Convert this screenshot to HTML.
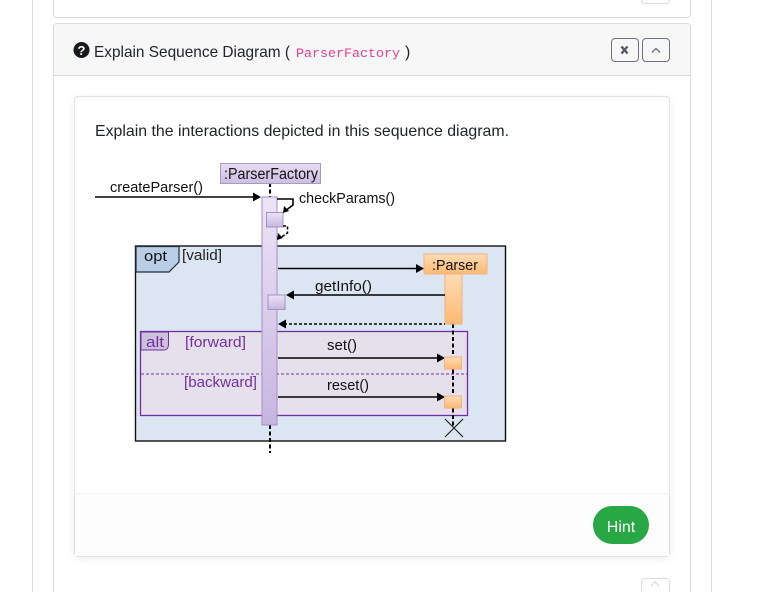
<!DOCTYPE html>
<html>
<head>
<meta charset="utf-8">
<style>
html,body{margin:0;padding:0;width:763px;height:592px;overflow:hidden;background:#fff}
#wrap{position:relative;width:763px;height:592px;overflow:hidden;background:#fff}
svg.main{display:block;position:absolute;left:0;top:0}
.abs{position:absolute;box-sizing:border-box}
text{font-family:"Liberation Sans",sans-serif}
</style>
</head>
<body>
<div id="wrap">
<div class="abs" style="left:32px;top:0;width:680px;height:592px;border-left:1px solid #dfdfdf;border-right:1px solid #dfdfdf"></div>
<div class="abs" style="left:53px;top:0;width:638px;height:18px;border:1px solid #dcdcdc;border-top:none;border-radius:0 0 4px 4px;background:#fff"></div>
<div class="abs" style="left:641px;top:0;width:29px;height:4px;border:1px solid #dddddd;border-top:none;border-radius:0 0 4px 4px;background:#fff"></div>
<div class="abs" style="left:53px;top:23px;width:638px;height:569px;border:1px solid #dcdcdc;border-bottom:none;border-radius:4px 4px 0 0;background:#fff"></div>
<div class="abs" style="left:54px;top:24px;width:636px;height:52px;border-bottom:1px solid #dcdcdc;background:#f7f7f8;border-radius:3px 3px 0 0"></div>
<div class="abs" style="left:74px;top:96px;width:596px;height:461px;border:1px solid #e2e2e2;border-radius:4px;background:#fff;box-shadow:0 2px 8px rgba(0,0,0,.07)"></div>
<div class="abs" style="left:75px;top:493px;width:594px;height:63px;border-top:1px solid #f2f2f2;background:#fdfdfd"></div>
<div class="abs" style="left:641px;top:578px;width:29px;height:14px;border:1px solid #dddddd;border-bottom:none;border-radius:4px 4px 0 0;background:#fff"></div>
<div class="abs" style="left:611px;top:38px;width:28px;height:24px;border:1px solid #6c757d;border-radius:4px"></div>
<div class="abs" style="left:642px;top:38px;width:28px;height:24px;border:1px solid #6c757d;border-radius:4px"></div>
<div class="abs" style="left:593px;top:506px;width:56px;height:38px;border-radius:19px;background:#28a745"></div>

<svg class="main" width="763" height="592" viewBox="0 0 763 592">
<defs>
<linearGradient id="p" x1="0" y1="0" x2="0" y2="1"><stop offset="0" stop-color="#ece4f6"/><stop offset="1" stop-color="#c7b5e0"/></linearGradient>
<linearGradient id="ph" x1="0" y1="0" x2="0" y2="1"><stop offset="0" stop-color="#e6dcf2"/><stop offset="1" stop-color="#cdbde3"/></linearGradient>
<linearGradient id="o" x1="0" y1="0" x2="0" y2="1"><stop offset="0" stop-color="#fedcb4"/><stop offset="1" stop-color="#fbb972"/></linearGradient>
</defs>

<!-- header -->
<circle cx="81.5" cy="50" r="8" fill="#17191c"/>
<text x="81.5" y="55" font-size="13" font-weight="bold" fill="#fff" text-anchor="middle">?</text>
<text x="94" y="57" font-size="16" fill="#212529" textLength="196" lengthAdjust="spacingAndGlyphs">Explain Sequence Diagram (</text>
<text x="296" y="57" font-size="13.33" fill="#e83e8c" style="font-family:'Liberation Mono',monospace">ParserFactory</text>
<text x="405" y="57" font-size="16" fill="#212529">)</text>
<path d="M621.500 46.500l6 7m0-7l-6 7" stroke="#555c63" stroke-width="2.400" fill="none"/>
<path d="M652 52.500l4-4 4 4" stroke="#6c757d" stroke-width="1.400" fill="none"/>
<path d="M651 586l4-4 4 4" stroke="#dddddd" stroke-width="1.400" fill="none"/>

<text x="95" y="136" font-size="16" fill="#212529" textLength="414" lengthAdjust="spacingAndGlyphs">Explain the interactions depicted in this sequence diagram.</text>

<g style="filter:blur(0.3px)">
<!-- opt frame -->
<rect x="135.500" y="246" width="370" height="195" fill="#dce6f2" stroke="#111" stroke-width="1.400"/>
<path d="M136 246.500H179V262L169 272H136Z" fill="#b9cde5" stroke="#1f2d40" stroke-width="1.200"/>
<text x="144" y="261" font-size="15" fill="#111" textLength="23" lengthAdjust="spacingAndGlyphs">opt</text>
<text x="182" y="260" font-size="15" fill="#222" textLength="40" lengthAdjust="spacingAndGlyphs">[valid]</text>

<!-- alt frame -->
<rect x="140.500" y="331.500" width="327" height="84" fill="#e6e0ec" stroke="#7030a0" stroke-width="1.300"/>
<path d="M141 332H168.500V345Q168 350 164 350H141Z" fill="#ccc1da" stroke="#7030a0" stroke-width="1"/>
<text x="146" y="347" font-size="14.500" fill="#7030a0" textLength="18" lengthAdjust="spacingAndGlyphs">alt</text>
<text x="185" y="347" font-size="14.500" fill="#7030a0" textLength="61" lengthAdjust="spacingAndGlyphs">[forward]</text>
<text x="184" y="387" font-size="14.500" fill="#7030a0" textLength="73" lengthAdjust="spacingAndGlyphs">[backward]</text>
<line x1="141" y1="374" x2="467" y2="374" stroke="#7030a0" stroke-width="1.100" stroke-dasharray="3 2"/>

<!-- lifelines -->
<line x1="270" y1="183" x2="270" y2="197" stroke="#000" stroke-width="2" stroke-dasharray="4 2.500"/>
<line x1="270" y1="425" x2="270" y2="453" stroke="#000" stroke-width="2" stroke-dasharray="4 2.500"/>
<line x1="453" y1="324" x2="453" y2="428" stroke="#000" stroke-width="2" stroke-dasharray="4 2.500"/>

<!-- ParserFactory -->
<rect x="220.500" y="163.500" width="100" height="20" fill="url(#ph)" stroke="#a99ac4" stroke-width="1"/>
<text x="224" y="179" font-size="15.500" fill="#111" textLength="94" lengthAdjust="spacingAndGlyphs">:ParserFactory</text>
<rect x="262" y="197" width="15" height="228" fill="url(#p)" stroke="#a48fc6" stroke-width="1"/>
<rect x="266.500" y="212.500" width="16.500" height="14.500" fill="url(#p)" stroke="#a48fc6" stroke-width="1"/>
<rect x="268" y="295" width="17" height="14.500" fill="url(#p)" stroke="#a48fc6" stroke-width="1"/>

<!-- createParser -->
<text x="110" y="192" font-size="15" fill="#111" textLength="93" lengthAdjust="spacingAndGlyphs">createParser()</text>
<line x1="95" y1="197" x2="254" y2="197" stroke="#000" stroke-width="1.600"/>
<path d="M261 197l-8-4.500v9z" fill="#000"/>

<!-- checkParams self call -->
<text x="299" y="203" font-size="15" fill="#111" textLength="96" lengthAdjust="spacingAndGlyphs">checkParams()</text>
<path d="M277 199H293V205L285 211" stroke="#000" stroke-width="1.600" fill="none"/>
<path d="M283 213l1-7 5 5z" fill="#000"/>
<path d="M283 226H287.500V233L280 238" stroke="#000" stroke-width="1.600" stroke-dasharray="3 2" fill="none"/>
<path d="M277 240l1-7 5 5z" fill="#000"/>

<!-- Parser -->
<line x1="278" y1="268.500" x2="418" y2="268.500" stroke="#000" stroke-width="1.500"/>
<path d="M424 268.500l-8-4.500v9z" fill="#000"/>
<rect x="424" y="254" width="63" height="20" fill="url(#o)" stroke="#f4b183" stroke-width="1"/>
<text x="432" y="270" font-size="15" fill="#111" textLength="46" lengthAdjust="spacingAndGlyphs">:Parser</text>
<rect x="445" y="274" width="17" height="50" fill="url(#o)" stroke="#f4b183" stroke-width="1"/>

<!-- getInfo -->
<text x="315" y="291" font-size="15" fill="#111" textLength="57" lengthAdjust="spacingAndGlyphs">getInfo()</text>
<line x1="292" y1="295" x2="445" y2="295" stroke="#000" stroke-width="1.500"/>
<path d="M286 295l8-4.500v9z" fill="#000"/>

<!-- return -->
<line x1="284" y1="324" x2="445" y2="324" stroke="#000" stroke-width="1.500" stroke-dasharray="3 2"/>
<path d="M278 324l8-4.500v9z" fill="#000"/>

<!-- set / reset -->
<text x="327" y="350" font-size="15" fill="#111" textLength="30" lengthAdjust="spacingAndGlyphs">set()</text>
<line x1="278" y1="358" x2="438" y2="358" stroke="#000" stroke-width="1.500"/>
<path d="M445 358l-8-4.500v9z" fill="#000"/>
<rect x="444.500" y="357" width="17" height="12" fill="url(#o)" stroke="#f4b183" stroke-width="1"/>
<text x="327" y="390" font-size="15" fill="#111" textLength="42" lengthAdjust="spacingAndGlyphs">reset()</text>
<line x1="278" y1="397" x2="438" y2="397" stroke="#000" stroke-width="1.500"/>
<path d="M445 397l-8-4.500v9z" fill="#000"/>
<rect x="444.500" y="396" width="17" height="12" fill="url(#o)" stroke="#f4b183" stroke-width="1"/>
<path d="M445 419l18 18M463 419l-18 18" stroke="#222" stroke-width="1.200" fill="none"/>
</g>

<!-- Hint -->
<text x="621" y="532" font-size="16" fill="#fff" text-anchor="middle">Hint</text>
</svg>
</div>
</body>
</html>
